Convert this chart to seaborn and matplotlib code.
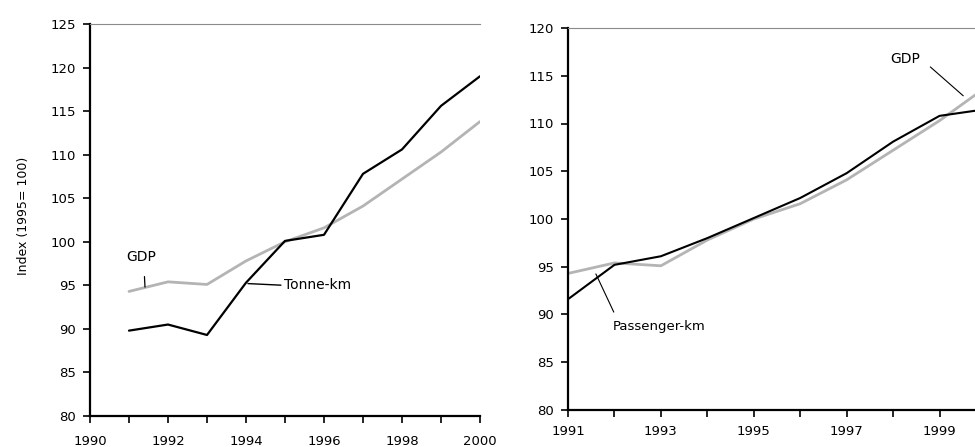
import numpy as np
import pandas as pd
import matplotlib
matplotlib.use("Agg")
import matplotlib.pyplot as plt
import seaborn as sns

years = [1991, 1992, 1993, 1994, 1995, 1996, 1997, 1998, 1999, 2000]
gdp = [94.3, 95.4, 95.1, 97.8, 100.0, 101.6, 104.1, 107.2, 110.3, 113.8]
tonne_km = [89.8, 90.5, 89.3, 95.3, 100.1, 100.8, 107.8, 110.6, 115.6, 119.0]
passenger_km = [91.6, 95.2, 96.1, 98.0, 100.1, 102.2, 104.8, 108.1, 110.8, 111.5]

sns.set_style("ticks")
plt.rcParams['font.family'] = ['DejaVu Sans']
plt.rcParams['text.color'] = 'black'
plt.rcParams['xtick.color'] = 'black'
plt.rcParams['ytick.color'] = 'black'
plt.rcParams['axes.labelcolor'] = 'black'

df_freight = pd.DataFrame({"Year": years, "GDP": gdp, "Tonne-km": tonne_km})
df_pass = pd.DataFrame({"Year": years, "GDP": gdp, "Passenger-km": passenger_km})

fig = plt.figure(figsize=(9.75, 4.47), dpi=100)
ax1 = fig.add_axes([90 / 975, 31 / 447, 390 / 975, 392 / 447])
ax2 = fig.add_axes([568 / 975, 37 / 447, 418 / 975, 382 / 447])

grey = "#b4b4b4"

# left panel: freight
sns.lineplot(data=df_freight, x="Year", y="GDP", ax=ax1, color=grey, linewidth=2)
sns.lineplot(data=df_freight, x="Year", y="Tonne-km", ax=ax1, color="black", linewidth=1.6)
ax1.set_xlim(1990, 2000)
ax1.set_ylim(80, 125)
ax1.set_xticks(range(1990, 2001))
ax1.set_xticklabels([str(y) if y % 2 == 0 else "" for y in range(1990, 2001)])
ax1.set_yticks(range(80, 126, 5))
ax1.set_xlabel("")
ax1.set_ylabel("Index (1995= 100)", fontsize=9)
ax1.yaxis.set_label_coords(-0.155, 0.51)
ax1.annotate("GDP", xy=(1991.41, 94.8), xytext=(1990.92, 98.3), fontsize=10,
             va="center", ha="left",
             arrowprops=dict(arrowstyle="-", color="black", lw=0.9,
                             shrinkA=7, shrinkB=0, relpos=(0.6, 0)))
ax1.annotate("Tonne-km", xy=(1994.05, 95.2), xytext=(1994.98, 95.0), fontsize=10,
             va="center", ha="left",
             arrowprops=dict(arrowstyle="-", color="black", lw=1.0,
                             shrinkA=0, shrinkB=0, relpos=(0, 0.5)))

# right panel: passenger
sns.lineplot(data=df_pass, x="Year", y="GDP", ax=ax2, color=grey, linewidth=2)
sns.lineplot(data=df_pass, x="Year", y="Passenger-km", ax=ax2, color="black", linewidth=1.5)
ax2.set_xlim(1991, 2000)
ax2.set_ylim(80, 120)
ax2.set_xticks(range(1991, 2001))
ax2.set_xticklabels([str(y) if y % 2 == 1 else "" for y in range(1991, 2001)])
ax2.set_yticks(range(80, 121, 5))
ax2.set_xlabel("")
ax2.set_ylabel("")
ax2.annotate("Passenger-km", xy=(1991.6, 94.25), xytext=(1991.97, 88.7), fontsize=9.5,
             va="center", ha="left",
             arrowprops=dict(arrowstyle="-", color="black", lw=0.8,
                             shrinkA=4, shrinkB=0, relpos=(0.05, 1)))
ax2.annotate("GDP", xy=(1999.51, 112.9), xytext=(1997.93, 116.75), fontsize=10,
             va="center", ha="left",
             arrowprops=dict(arrowstyle="-", color="black", lw=0.8,
                             shrinkA=7, shrinkB=0, relpos=(1, 0.6)))

for ax in (ax1, ax2):
    for side in ("left", "bottom"):
        ax.spines[side].set_linewidth(1.6)
        ax.spines[side].set_color("black")
    ax.spines["top"].set_visible(True)
    ax.spines["top"].set_color("#8a8a8a")
    ax.spines["top"].set_linewidth(0.8)
    ax.spines["right"].set_visible(False)
    ax.tick_params(axis="both", direction="out", length=5, width=1.2, labelsize=9.5)
    ax.tick_params(axis="y", pad=5)
    ax.set_facecolor("white")
ax1.tick_params(axis="x", pad=9)
ax2.tick_params(axis="x", pad=6)

fig.savefig("out.png", dpi=100)
